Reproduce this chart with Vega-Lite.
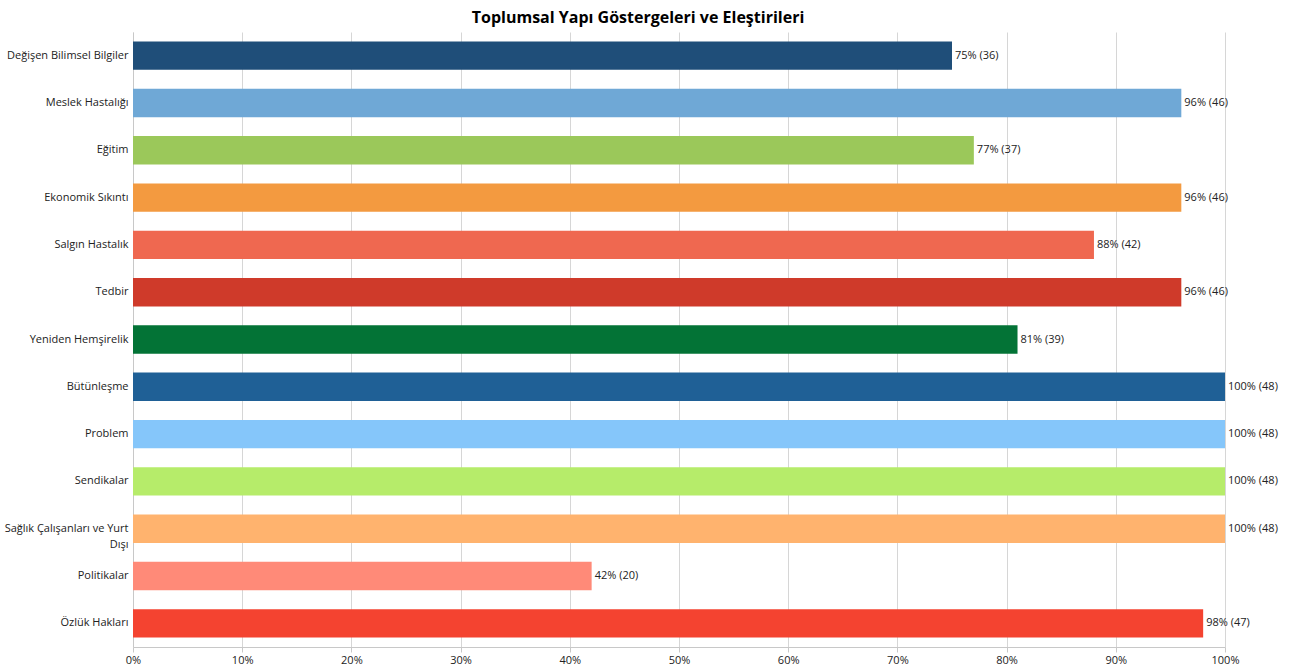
{
  "$schema": "https://vega.github.io/schema/vega-lite/v6.json",
  "autosize": {"type": "none"},
  "padding": {"left": 133, "top": 32, "right": 69, "bottom": 18},
  "width": 1092,
  "height": 615,
  "title": {"text": "Toplumsal Yapı Göstergeleri ve Eleştirileri", "font": "Open Sans", "fontSize": 16, "fontWeight": "bold", "color": "#000000", "anchor": "middle", "dx": -41, "offset": 6},
  "config": {"view": {"stroke": null}, "font": "Open Sans"},
  "data": {"values": [
    {"kategori": "Değişen Bilimsel Bilgiler", "yuzde": 75, "sayi": 36, "etiket": "75% (36)", "renk": "#1f4e79"},
    {"kategori": "Meslek Hastalığı", "yuzde": 96, "sayi": 46, "etiket": "96% (46)", "renk": "#6fa8d6"},
    {"kategori": "Eğitim", "yuzde": 77, "sayi": 37, "etiket": "77% (37)", "renk": "#9bc85a"},
    {"kategori": "Ekonomik Sıkıntı", "yuzde": 96, "sayi": 46, "etiket": "96% (46)", "renk": "#f39a40"},
    {"kategori": "Salgın Hastalık", "yuzde": 88, "sayi": 42, "etiket": "88% (42)", "renk": "#ef6850"},
    {"kategori": "Tedbir", "yuzde": 96, "sayi": 46, "etiket": "96% (46)", "renk": "#cf3a2a"},
    {"kategori": "Yeniden Hemşirelik", "yuzde": 81, "sayi": 39, "etiket": "81% (39)", "renk": "#037336"},
    {"kategori": "Bütünleşme", "yuzde": 100, "sayi": 48, "etiket": "100% (48)", "renk": "#1f6096"},
    {"kategori": "Problem", "yuzde": 100, "sayi": 48, "etiket": "100% (48)", "renk": "#85c6fa"},
    {"kategori": "Sendikalar", "yuzde": 100, "sayi": 48, "etiket": "100% (48)", "renk": "#b6ec6a"},
    {"kategori": "Sağlık Çalışanları ve Yurt Dışı", "yuzde": 100, "sayi": 48, "etiket": "100% (48)", "renk": "#ffb36e"},
    {"kategori": "Politikalar", "yuzde": 42, "sayi": 20, "etiket": "42% (20)", "renk": "#ff8a78"},
    {"kategori": "Özlük Hakları", "yuzde": 98, "sayi": 47, "etiket": "98% (47)", "renk": "#f44330"}
  ]},
  "encoding": {
    "y": {"field": "kategori", "type": "nominal", "sort": null,
      "scale": {"paddingInner": 0.4, "paddingOuter": 0.2},
      "axis": {"title": null, "ticks": false, "labelFontSize": 11, "labelColor": "#222222", "labelPadding": 5, "labelLimit": 200,
        "domain": true, "domainColor": "#c8c8c8",
        "labelExpr": "datum.label == 'Sağlık Çalışanları ve Yurt Dışı' ? ['Sağlık Çalışanları ve Yurt', 'Dışı'] : datum.label",
        "labelLineHeight": 16}},
    "x": {"field": "yuzde", "type": "quantitative",
      "scale": {"domain": [0, 100], "nice": false},
      "axis": {"title": null, "values": [0,10,20,30,40,50,60,70,80,90,100], "labelExpr": "datum.value + '%'",
        "grid": true, "gridColor": "#d6d6d6", "domainColor": "#c8c8c8", "tickColor": "#c8c8c8", "tickSize": 5,
        "labelFontSize": 11, "labelColor": "#222222", "labelPadding": 2, "labelFlush": false}}
  },
  "layer": [
    {"mark": {"type": "bar"}, "encoding": {"color": {"field": "renk", "type": "nominal", "scale": null, "legend": null}}},
    {"mark": {"type": "text", "align": "left", "dx": 3, "fontSize": 11, "color": "#222222"}, "encoding": {"text": {"field": "etiket"}}}
  ]
}
